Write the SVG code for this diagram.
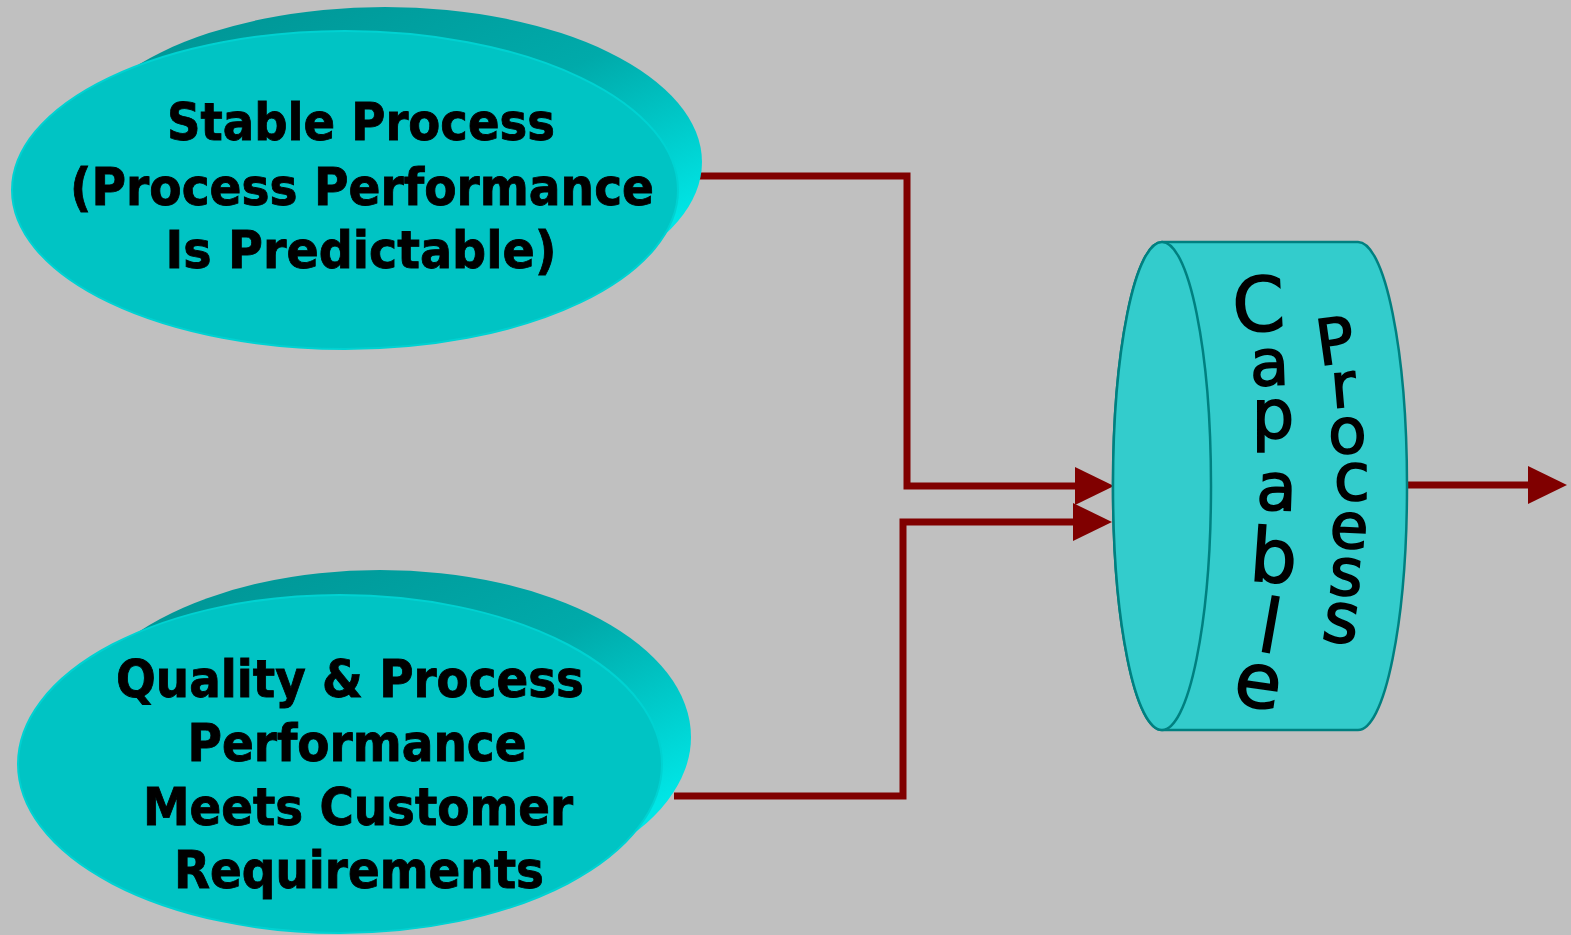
<svg xmlns="http://www.w3.org/2000/svg" width="1571" height="935" viewBox="0 0 1571 935">
<defs>
<style>
.lbl{font-family:"DejaVu Sans Condensed","DejaVu Sans",sans-serif;font-weight:bold;font-size:52px;fill:#000;stroke:#000;stroke-width:0.8;text-anchor:middle}
.cyl{font-family:"DejaVu Sans","Verdana",sans-serif;fill:#000;stroke:#000;stroke-width:1.6;text-anchor:middle}
.front{fill:#00C4C4;stroke:#00D2D2;stroke-width:2}
.conn{fill:none;stroke:#800000;stroke-width:7}
</style>
<linearGradient id="side" x1="0.3" y1="0" x2="0.95" y2="0.7">
<stop offset="0" stop-color="#009898"/>
<stop offset="0.5" stop-color="#00AAAA"/>
<stop offset="1" stop-color="#00E6E6"/>
</linearGradient>
<marker id="ah" markerUnits="userSpaceOnUse" viewBox="0 0 39 38" refX="9" refY="19" markerWidth="39" markerHeight="38" orient="auto">
<path d="M0,0 L39,19 L0,38 Z" fill="#800000"/>
</marker>
</defs>
<rect width="1571" height="935" fill="#C0C0C0"/>

<g id="connectors">
<path class="conn" d="M697,176 H907 V486 H1084" marker-end="url(#ah)"/>
<path class="conn" d="M674,796 H903 V522 H1082" marker-end="url(#ah)"/>
<path class="conn" d="M1406,485 H1537" marker-end="url(#ah)"/>
</g>

<g id="stable">
<ellipse cx="385" cy="162" rx="317" ry="155" fill="url(#side)"/>
<ellipse class="front" cx="345" cy="190" rx="333" ry="159"/>
<text class="lbl" x="361" y="140" textLength="388" lengthAdjust="spacingAndGlyphs">Stable Process</text>
<text class="lbl" x="362" y="205" textLength="584" lengthAdjust="spacingAndGlyphs">(Process Performance</text>
<text class="lbl" x="361" y="268" textLength="391" lengthAdjust="spacingAndGlyphs">Is Predictable)</text>
</g>

<g id="quality">
<ellipse cx="380" cy="737" rx="311" ry="167" fill="url(#side)"/>
<ellipse class="front" cx="340" cy="764" rx="322" ry="169"/>
<text class="lbl" x="350" y="697" textLength="468" lengthAdjust="spacingAndGlyphs">Quality &amp; Process</text>
<text class="lbl" x="357" y="761" textLength="339" lengthAdjust="spacingAndGlyphs">Performance</text>
<text class="lbl" x="358" y="825" textLength="430" lengthAdjust="spacingAndGlyphs">Meets Customer</text>
<text class="lbl" x="359" y="888" textLength="370" lengthAdjust="spacingAndGlyphs">Requirements</text>
</g>

<g id="capable">
<path d="M1162,242 H1358 A49,244 0 0 1 1358,730 H1162 A49,244 0 0 1 1162,242 Z" fill="#33CCCC" stroke="#008080" stroke-width="2.5"/>
<ellipse cx="1162" cy="486" rx="49" ry="244" fill="#33CCCC" stroke="#008080" stroke-width="2.5"/>
<text class="cyl" font-size="75" transform="translate(1260,331) rotate(-3)">C</text>
<text class="cyl" font-size="64" transform="translate(1270,385) rotate(-2)">a</text>
<text class="cyl" font-size="67" transform="translate(1273,438) rotate(0)">p</text>
<text class="cyl" font-size="66" transform="translate(1276,510) rotate(2)">a</text>
<text class="cyl" font-size="74" transform="translate(1272,582) rotate(4)">b</text>
<text class="cyl" font-size="74" transform="translate(1266,652) rotate(10)">l</text>
<text class="cyl" font-size="76" transform="translate(1255,707) rotate(8)">e</text>
<text class="cyl" font-size="63" transform="translate(1338,363) rotate(-8)">P</text>
<text class="cyl" font-size="62" transform="translate(1345,407) rotate(-5)">r</text>
<text class="cyl" font-size="63" transform="translate(1348,453) rotate(-2)">o</text>
<text class="cyl" font-size="66" transform="translate(1352,500) rotate(0)">c</text>
<text class="cyl" font-size="63" transform="translate(1348,548) rotate(3)">e</text>
<text class="cyl" font-size="66" transform="translate(1344,595) rotate(6)">s</text>
<text class="cyl" font-size="70" transform="translate(1338,642) rotate(9)">s</text>
</g>
</svg>
